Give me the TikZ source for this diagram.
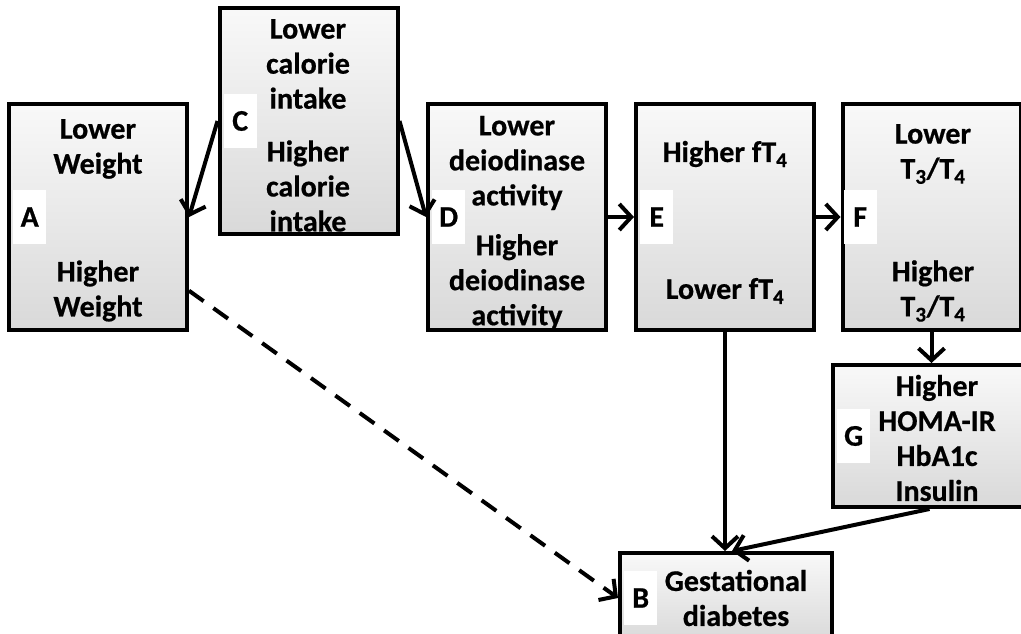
\documentclass[tikz,border=0pt]{standalone}
\usepackage{fontspec}
\setmainfont{Carlito}[BoldFeatures={FakeBold=0.6}]
\usetikzlibrary{arrows.meta,positioning}

\tikzset{
  box/.style={draw, line width=4pt, rectangle, top color=gray!5, bottom color=gray!30,
    minimum width=178pt, minimum height=226pt, inner sep=0pt},
  txt/.style={align=center, inner sep=0pt, font=\fontsize{30}{35}\selectfont\bfseries},
  tag/.style={fill=white, minimum width=33pt, minimum height=54pt, inner sep=0pt,
    font=\fontsize{30}{35}\selectfont\bfseries},
  arr/.style={line width=4pt, -{Straight Barb[length=12pt,width=26pt]}},
}

\begin{document}
\begin{tikzpicture}[x=1pt, y=-1pt, node distance=6pt]
  \clip (0,0) rectangle (1021,634);

  % boxes
  \node[box] (A) at (98,217) {};
  \node[box] (C) at (308.5,121) {};
  \node[box] (D) at (517,217) {};
  \node[box] (E) at (725,217) {};
  \node[box] (F) at (931.5,217) {};
  \node[box, minimum width=193pt, minimum height=142pt] (G) at (929.5,436) {};
  \node[box, minimum width=212pt, minimum height=90pt] (B) at (726,598) {};

  % texts
  \node[txt] (Alow)  at (98,149)  {Lower\\Weight};
  \node[txt] (Ahigh) at (98,291)  {Higher\\Weight};
  \node[txt] (Clow)  at (308,64)  {Lower\\calorie\\intake};
  \node[txt] (Chigh) at (308,186) {Higher\\calorie\\intake};
  \node[txt] (Dlow)  at (517,163) {Lower\\deiodinase\\activity};
  \node[txt] (Dhigh) at (517,282) {Higher\\deiodinase\\activity};
  \node[txt] (Ehigh) at (725,154) {Higher fT\textsubscript{4}};
  \node[txt] (Elow)  at (725,291) {Lower fT\textsubscript{4}};
  \node[txt] (Flow)  at (933,154) {Lower\\T\textsubscript{3}/T\textsubscript{4}};
  \node[txt] (Fhigh) at (933,291) {Higher\\T\textsubscript{3}/T\textsubscript{4}};
  \node[txt] (Gtxt)  at (937,438) {Higher\\HOMA-IR\\HbA1c\\Insulin};
  \node[txt] (Btxt)  at (736,598) {Gestational\\diabetes};

  % letters
  \node[tag, right=of A.west] (Atag) {A};
  \node[tag, right=of C.west] (Ctag) {C};
  \node[tag, right=of D.west] (Dtag) {D};
  \node[tag, right=of E.west] (Etag) {E};
  \node[tag, right=3pt of F.west] (Ftag) {F};
  \node[tag, right=of G.west] (Gtag) {G};
  \node[tag, right=of B.west] (Btag) {B};

  % arrows
  \draw[arr] (C.west) -- (A.east);
  \draw[arr] (C.east) -- (D.west);
  \draw[arr] (D) -- (E);
  \draw[arr] (E) -- (F);
  \draw[arr] (F.south) -- (F.south |- G.north);
  \draw[arr] (E.south) -- (E.south |- B.north);
  \draw[arr] (G.south) -- ([xshift=6pt]B.north);
  \draw[arr, dash pattern=on 18pt off 12pt] (A.-39) -- (B.west);

\end{tikzpicture}
\end{document}
